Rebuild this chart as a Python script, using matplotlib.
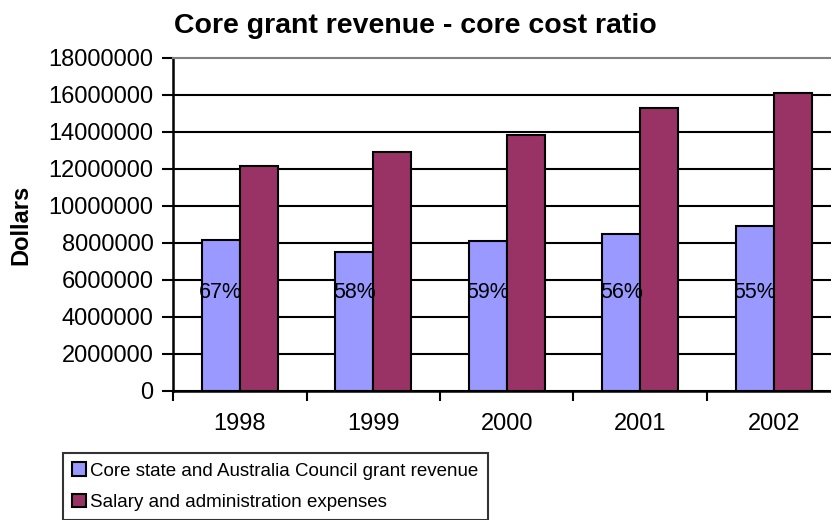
import matplotlib
matplotlib.use("Agg")
import matplotlib.pyplot as plt
from matplotlib.ticker import FormatStrFormatter, FixedLocator
import numpy as np

plt.rcParams["font.family"] = ["Liberation Sans", "DejaVu Sans"]

# yearly figures in dollars
years = ["1998", "1999", "2000", "2001", "2002"]
grant_revenue = [8180000, 7530000, 8120000, 8500000, 8900000]
salary_admin = [12180000, 12900000, 13840000, 15280000, 16110000]

revenue_name = "Core state and Australia Council grant revenue"
expense_name = "Salary and administration expenses"

blue = "#9999FF"
plum = "#993366"

fig = plt.figure(figsize=(8.31, 5.20), dpi=100)
# plot area runs a little past the right edge of the figure
ax = fig.add_axes([0.2082, 0.2481, 0.8032, 0.6404])

x = np.arange(len(years))
w = 0.285
b1 = ax.bar(x - w / 2, grant_revenue, w, color=blue, edgecolor="black", linewidth=1.5,
            label=revenue_name, zorder=3)
b2 = ax.bar(x + w / 2, salary_admin, w, color=plum, edgecolor="black", linewidth=1.5,
            label=expense_name, zorder=3)

# revenue as a share of costs, written over the blue bars
for i in range(len(years)):
    pct = round(grant_revenue[i] / salary_admin[i] * 100)
    ax.text(x[i] - w / 2, 5350000, f"{pct}%", ha="center", va="center",
            fontsize=15.5, color="black", zorder=4)

ax.set_xlim(-0.5, len(years) - 0.5)
ax.set_ylim(0, 18000000)
ax.set_yticks(np.arange(0, 18000001, 2000000))
ax.yaxis.set_major_formatter(FormatStrFormatter("%d"))
ax.tick_params(axis="y", direction="out", length=8, width=1.5, pad=6, labelsize=17)

ax.set_xticks(x)
ax.set_xticklabels(years)
ax.tick_params(axis="x", which="major", length=0, pad=16, labelsize=17)
ax.xaxis.set_minor_locator(FixedLocator(np.arange(-0.5, len(years), 1.0)))
ax.tick_params(axis="x", which="minor", direction="out", length=7, width=1.5)

ax.set_axisbelow(True)
ax.yaxis.grid(True, color="black", linewidth=1.5)
ax.get_ygridlines()[-1].set_visible(False)

ax.spines["left"].set_linewidth(1.8)
ax.spines["bottom"].set_linewidth(1.8)
ax.spines["top"].set_color("#808080")
ax.spines["top"].set_linewidth(1.5)
ax.spines["right"].set_visible(False)

fig.text(415.5 / 831, 1 - 26 / 520, "Core grant revenue - core cost ratio",
         ha="center", va="center", fontsize=20.5, fontweight="bold")
fig.text(21 / 831, 1 - 225 / 520, "Dollars", ha="center", va="center",
         rotation=90, fontsize=17, fontweight="bold")

leg = fig.legend(handles=[b1, b2], loc="upper left",
                 bbox_to_anchor=(63 / 831, 1 - 453 / 520), frameon=True,
                 fancybox=False, edgecolor="black", fontsize=13.5,
                 handlelength=0.7, handleheight=0.7, handletextpad=0.25,
                 labelspacing=0.75, borderpad=0.5, borderaxespad=0)
leg.get_frame().set_linewidth(1.5)

fig.savefig("out.png", dpi=100)
